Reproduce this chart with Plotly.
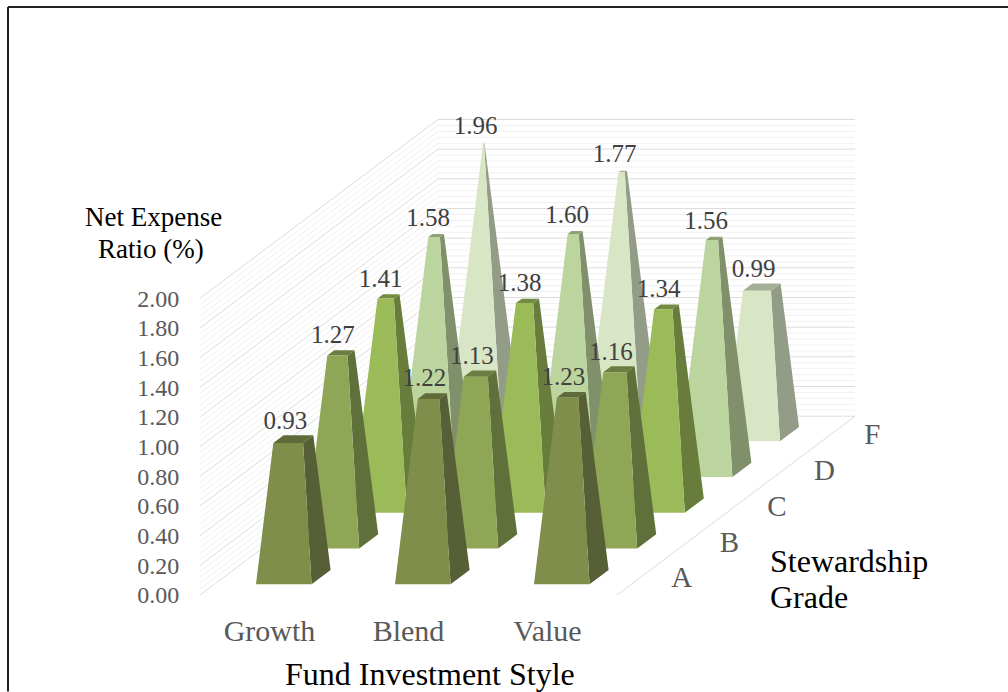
import plotly.graph_objects as go

styles = ["Growth", "Blend", "Value"]
grades = ["A", "B", "C", "D", "F"]
expense = {
    "A": [0.93, 1.22, 1.23],
    "B": [1.27, 1.13, 1.16],
    "C": [1.41, 1.38, 1.34],
    "D": [1.58, 1.60, 1.56],
    "F": [1.96, 1.77, 0.99],
}
y_ticks = [0, .2, .4, .6, .8, 1.0, 1.2, 1.4, 1.6, 1.8, 2.0]
front_col = {"A": "#7f8f4b", "B": "#8fa656", "C": "#9bbb59", "D": "#bcd49e", "F": "#d9e6c6"}
side_col = {"A": "#565f36", "B": "#60703a", "C": "#687d3c", "D": "#80906a", "F": "#939c86"}
top_col = {"A": "#5f6b3a", "B": "#6b7d40", "C": "#748c42", "D": "#8fa277", "F": "#a4af96"}

# Right-angle-axes (oblique) projection: column units, value units, depth 0..1
PX_COL, PX_VAL = 139.0, 148.5
LEFT, BASE = 200.0, 595.5
RIGHT, TOP = 1000.0, 90.0
DEPTH_X, DEPTH_Y = 238.0 / PX_COL, 179.0 / PX_VAL
VMAX = 2.0
BAR = 0.4


def proj(col, depth, val):
    return col + depth * DEPTH_X, val + depth * DEPTH_Y


def paper_x(p):
    return (p - LEFT) / (RIGHT - LEFT)


def paper_y(p):
    return (BASE - p) / (BASE - TOP)


def segs(pairs):
    xs, ys = [], []
    for a, b in pairs:
        for c, d, v in (a, b):
            x, y = proj(c, d, v)
            xs.append(x)
            ys.append(y)
        xs.append(None)
        ys.append(None)
    return xs, ys


fig = go.Figure()
n_c, n_g = len(styles), len(grades)
minor = [i * 0.04 for i in range(51) if i % 5]


def grid(levels, color, width):
    pairs = []
    for v in levels:
        pairs.append(((0, 0, v), (0, 1, v)))
        pairs.append(((0, 1, v), (n_c, 1, v)))
    x, y = segs(pairs)
    fig.add_trace(go.Scatter(x=x, y=y, mode="lines", line=dict(color=color, width=width), hoverinfo="skip"))


grid(minor, "#f0f0f0", 1)
grid(y_ticks, "#dcdcdc", 1)
fx, fy = segs([((n_c, 0, 0), (n_c, 1, 0))])
fig.add_trace(go.Scatter(x=fx, y=fy, mode="lines", line=dict(color="#dcdcdc", width=1), hoverinfo="skip"))


def add(store, pts):
    for c, d, z in pts:
        x, y = proj(c, d, z)
        store[0].append(x)
        store[1].append(y)
    store[0].append(None)
    store[1].append(None)


for gi in reversed(range(n_g)):
    g = grades[gi]
    front, side, top = ([], []), ([], []), ([], [])
    for ci, v in enumerate(expense[g]):
        cc, dc = ci + 0.5, (gi + 0.5) / n_g
        r = 1 - v / VMAX
        hw, hd = BAR / 2, (1 / n_g) * BAR / 2
        fb = [(cc - hw, dc - hd, 0), (cc + hw, dc - hd, 0)]
        ft = [(cc + hw * r, dc - hd * r, v), (cc - hw * r, dc - hd * r, v)]
        add(side, [fb[1], (cc + hw, dc + hd, 0), (cc + hw * r, dc + hd * r, v), ft[0]])
        add(top, [ft[1], ft[0], (cc + hw * r, dc + hd * r, v), (cc - hw * r, dc + hd * r, v)])
        add(front, fb + ft)
    for store, col in ((side, side_col[g]), (top, top_col[g]), (front, front_col[g])):
        fig.add_trace(go.Scatter(x=store[0], y=store[1], mode="lines", fill="toself", fillcolor=col,
                                 line=dict(width=0, color=col), hoverinfo="skip"))

# data labels, always on top
lx, ly, lt = [], [], []
for gi, g in enumerate(grades):
    for ci, v in enumerate(expense[g]):
        x, y = proj(ci + 0.5, (gi + 0.5) / n_g, v)
        lx.append(x - 8 / PX_COL)
        ly.append(y + 16 / PX_VAL)
        lt.append(f"{v:.2f}")
fig.add_trace(go.Scatter(x=lx, y=ly, text=lt, mode="text", textposition="middle center",
                         textfont=dict(family="Liberation Serif", size=25, color="#404040"),
                         cliponaxis=False, hoverinfo="skip"))

# depth-axis labels
gx, gy = [], []
for gi in range(n_g):
    x, y = proj(n_c, (gi + 0.5) / n_g, 0)
    gx.append(x + 41 / PX_COL)
    gy.append(y - 3 / PX_VAL)
fig.add_trace(go.Scatter(x=gx, y=gy, text=grades, mode="text", textposition="middle center",
                         textfont=dict(family="Liberation Serif", size=29, color="#595959"),
                         cliponaxis=False, hoverinfo="skip"))

W, H = 1008, 692
fig.update_layout(
    width=W, height=H, showlegend=False, paper_bgcolor="white", plot_bgcolor="white",
    margin=dict(l=LEFT, r=W - RIGHT, t=TOP, b=H - BASE, pad=0, autoexpand=False),
    xaxis=dict(range=[0, (RIGHT - LEFT) / PX_COL], showgrid=False, zeroline=False, showline=False,
               tickmode="array", tickvals=[i + 0.5 for i in range(n_c)], ticktext=styles,
               ticks="outside", ticklen=9, tickcolor="rgba(0,0,0,0)",
               tickfont=dict(family="Liberation Serif", size=30, color="#595959")),
    yaxis=dict(range=[0, (BASE - TOP) / PX_VAL], showgrid=False, zeroline=False, showline=False,
               tickmode="array", tickvals=y_ticks, ticktext=[f"{v:.2f}" for v in y_ticks],
               ticks="outside", ticklen=15, tickcolor="rgba(0,0,0,0)",
               tickfont=dict(family="Liberation Serif", size=24, color="#595959")),
    shapes=[dict(type="line", xref="paper", yref="paper",
                 x0=paper_x(a), x1=paper_x(c), y0=paper_y(b), y1=paper_y(d),
                 line=dict(color="#222222", width=2))
            for a, b, c, d in [(8, 7, 8, 692), (8, 7, 1008, 7)]],
)
for text, px, py, size, anchor in [
    ("Net Expense", 153, 217, 27, "center"),
    ("Ratio (%)", 151, 249, 27, "center"),
    ("Fund Investment Style", 430, 675, 32, "center"),
    ("Stewardship", 768, 561, 32, "left"),
    ("Grade", 768, 598, 32, "left"),
]:
    fig.add_annotation(text=text, x=paper_x(px), y=paper_y(py), xref="paper", yref="paper", showarrow=False,
                       xanchor=anchor, yanchor="middle",
                       font=dict(family="Liberation Serif", size=size, color="black"))

fig.write_html("out.html", config=dict(displayModeBar=False),
               post_script="document.body.style.margin='0';document.body.style.overflow='hidden';")
